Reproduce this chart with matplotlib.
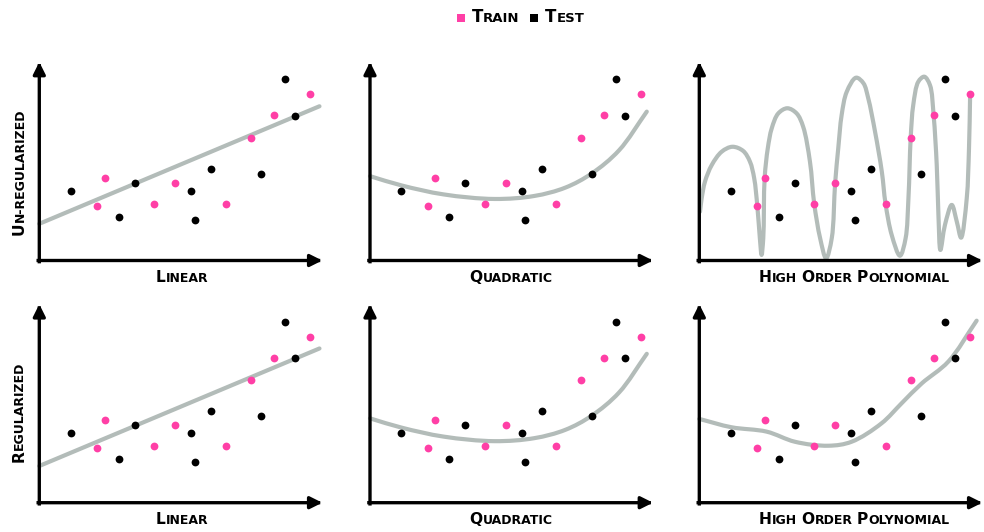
import numpy as np
import matplotlib
matplotlib.use('Agg')
import matplotlib.pyplot as plt
from matplotlib.path import Path
from matplotlib.patches import PathPatch, Rectangle
from matplotlib.offsetbox import TextArea, HPacker, DrawingArea, AnnotationBbox
from matplotlib.text import Annotation

# observations shared by every panel (x, y in arbitrary units 0..10)
train_x = [2.05, 2.31, 4.06, 4.80, 6.58, 7.47, 8.28, 9.57]
train_y = [2.75, 4.17, 2.87, 3.90, 2.87, 6.19, 7.31, 8.37]
test_x = [1.11, 2.80, 3.37, 5.37, 5.49, 6.07, 7.83, 8.69, 9.02]
test_y = [3.51, 2.21, 3.90, 3.49, 2.03, 4.62, 4.37, 9.12, 7.30]

# fitted curves, given as knots along each curve
linear_x = [0.0, 9.90]
linear_y = [1.85, 7.77]

quad_x = [0.0, 1.12, 2.60, 4.40, 5.80, 6.90, 7.83, 8.80, 9.78]
quad_y = [4.25, 3.78, 3.33, 3.10, 3.25, 3.67, 4.38, 5.55, 7.50]

poly_x = [0.025, 0.084, 0.20, 0.44, 0.79, 1.17, 1.55, 1.79, 1.94, 2.05, 2.14, 2.20,
          2.26, 2.31, 2.42, 2.56, 2.79, 3.11, 3.44, 3.67, 3.91, 4.06, 4.27, 4.48,
          4.68, 4.80, 4.91, 5.03, 5.21, 5.54, 5.80, 5.97, 6.21, 6.45, 6.58, 6.80,
          7.09, 7.29, 7.39, 7.47, 7.56, 7.74, 7.95, 8.15, 8.28, 8.39, 8.45, 8.52,
          8.68, 8.92, 9.10, 9.25, 9.45, 9.53, 9.57]
poly_y = [2.46, 3.13, 3.97, 4.81, 5.48, 5.73, 5.52, 4.98, 4.14, 2.75, 1.12, 0.28,
          1.12, 4.17, 5.65, 6.66, 7.41, 7.67, 7.41, 6.74, 4.98, 2.87, 1.12, 0.11,
          1.12, 3.90, 5.65, 7.33, 8.50, 9.21, 8.93, 8.17, 6.49, 4.47, 2.87, 1.28,
          0.24, 1.12, 3.13, 6.19, 7.83, 9.01, 9.26, 8.84, 7.31, 4.81, 2.29, 0.53,
          1.79, 2.80, 1.95, 1.15, 3.13, 5.65, 8.37]

ridge_x = [0.0, 1.14, 2.38, 3.38, 4.56, 5.38, 6.44, 7.15, 7.86, 8.80, 9.80]
ridge_y = [4.22, 3.80, 3.58, 3.07, 2.87, 3.07, 4.00, 5.01, 6.01, 7.11, 9.17]

row_labels = ['UN-REGULARIZED', 'REGULARIZED']
col_titles = ['LINEAR', 'QUADRATIC', 'HIGH ORDER POLYNOMIAL']

PINK = '#ff3fa6'
GREY = '#b3bcb9'
FONT = 'DejaVu Sans'

W, H = 984, 532
SX, SY = 28.3, 19.85   # pixels per data unit inside a panel


def curve_path(x, y, alpha=0.5):
    # centripetal Catmull-Rom through the knots, as cubic bezier segments
    P = np.column_stack([np.asarray(x, float) * SX, np.asarray(y, float) * SY])
    ext = np.vstack([2 * P[0] - P[1], P, 2 * P[-1] - P[-2]])
    verts = [P[0]]
    codes = [Path.MOVETO]
    for i in range(len(P) - 1):
        p0, p1, p2, p3 = ext[i], ext[i + 1], ext[i + 2], ext[i + 3]
        d1 = np.linalg.norm(p1 - p0) ** alpha
        d2 = np.linalg.norm(p2 - p1) ** alpha
        d3 = np.linalg.norm(p3 - p2) ** alpha
        b1 = (d1**2 * p2 - d2**2 * p0 + (2 * d1**2 + 3 * d1 * d2 + d2**2) * p1) / (3 * d1 * (d1 + d2))
        b2 = (d3**2 * p1 - d2**2 * p3 + (2 * d3**2 + 3 * d3 * d2 + d2**2) * p2) / (3 * d3 * (d3 + d2))
        verts += [b1, b2, p2]
        codes += [Path.CURVE4] * 3
    verts = np.array(verts) / [SX, SY]
    return Path(verts, codes)


def draw_panel(ax, cx, cy):
    ax.set_xlim(0, 10)
    ax.set_ylim(0, 10)
    ax.axis('off')
    ax.add_patch(PathPatch(curve_path(cx, cy), fill=False, ec=GREY, lw=3.0,
                           capstyle='round', joinstyle='round', zorder=2,
                           clip_on=False))
    ax.plot(test_x, test_y, 'o', color='black', ms=5.6, mew=0, zorder=3, clip_on=False)
    ax.plot(train_x, train_y, 'o', color=PINK, ms=5.6, mew=0, zorder=3, clip_on=False)
    arrow = dict(arrowstyle='-|>', lw=2.4, color='black', mutation_scale=18,
                 shrinkA=0, shrinkB=0, capstyle='projecting')
    ax.annotate('', xy=(10, 0), xytext=(-0.04, 0), arrowprops=arrow,
                annotation_clip=False, zorder=4)
    ax.annotate('', xy=(0, 10), xytext=(0, -0.06), arrowprops=arrow,
                annotation_clip=False, zorder=4)


def caps_parts(text, big, small):
    # small capitals: first letter of each word full size, the rest smaller
    parts = []
    for i, word in enumerate(text.split(' ')):
        if i > 0:
            parts.append(TextArea(' ', textprops=dict(size=small, weight='bold', family=FONT)))
        parts.append(TextArea(word[0], textprops=dict(size=big, weight='bold', family=FONT)))
        parts.append(TextArea(word[1:], textprops=dict(size=small, weight='bold', family=FONT)))
    return parts


def caps_title(fig, text, cx, cy, big=11.2, small=9):
    box = HPacker(children=caps_parts(text, big, small), align='baseline', pad=0, sep=0)
    ab = AnnotationBbox(box, (cx, H - cy), xycoords='figure pixels', frameon=False,
                        box_alignment=(0.5, 0.5), pad=0)
    fig.add_artist(ab)


def caps_vertical(fig, text, bx, by, big=11.2, small=9.0):
    # bx: baseline x, by: lower end of the text (both in image pixels)
    first = fig.text(bx / W, (H - by) / H, text[0], rotation=90, rotation_mode='anchor',
                     ha='left', va='baseline', size=big, weight='bold', family=FONT)
    rest = Annotation(text[1:], xy=(bx, 1.0), xycoords=('figure pixels', first),
                      rotation=90, rotation_mode='anchor', ha='left', va='baseline',
                      size=small, weight='bold', family=FONT)
    fig.add_artist(rest)


fig = plt.figure(figsize=(9.84, 5.32), dpi=100)

col_origin = [39.3, 370.0, 699.3]
row_origin = [260.5, 502.7]
span_x, span_y = 283.0, 198.5
curves = [[(linear_x, linear_y), (quad_x, quad_y), (poly_x, poly_y)],
          [(linear_x, linear_y), (quad_x, quad_y), (ridge_x, ridge_y)]]
title_cx = [182, 511, 854]

for r in range(2):
    for c in range(3):
        ox, oy = col_origin[c], row_origin[r]
        ax = fig.add_axes([ox / W, (H - oy) / H, span_x / W, span_y / H])
        cx, cy = curves[r][c]
        draw_panel(ax, cx, cy)
        caps_title(fig, col_titles[c], title_cx[c], oy + 17)

caps_vertical(fig, row_labels[0], 24, 235)
caps_vertical(fig, row_labels[1], 23.3, 461.7)

# legend at the top
legend_parts = []
for color, name in [(PINK, 'TRAIN'), ('black', 'TEST')]:
    da = DrawingArea(5.8, 5.8, 0, 0)
    da.add_artist(Rectangle((0, 0), 5.8, 5.8, fc=color, ec='none'))
    legend_parts.append(da)
    legend_parts.append(TextArea('   ', textprops=dict(size=5.5, family=FONT)))
    legend_parts += caps_parts(name, 12, 9.5)
    legend_parts.append(TextArea('   ', textprops=dict(size=8, family=FONT)))
legend_box = HPacker(children=legend_parts[:-1], align='baseline', pad=0, sep=0)
fig.add_artist(AnnotationBbox(legend_box, (520.5, H - 17), xycoords='figure pixels',
                              frameon=False, box_alignment=(0.5, 0.5), pad=0))

fig.savefig('out.png', dpi=100)
